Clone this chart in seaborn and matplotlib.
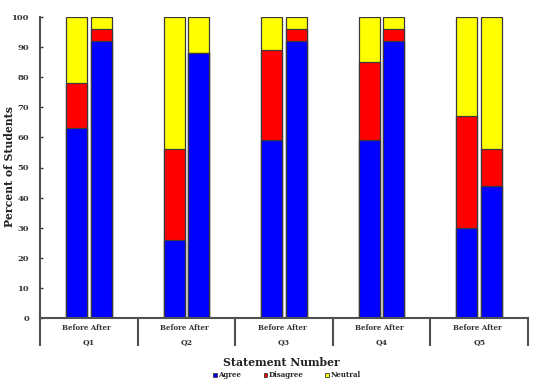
import matplotlib
matplotlib.use("Agg")
import matplotlib.pyplot as plt
from matplotlib.patches import Patch
import seaborn as sns
import pandas as pd

# Survey data, percent of students
questions = ["Q1", "Q2", "Q3", "Q4", "Q5"]
phases = ["Before", "After"]
agree_before = [63, 26, 59, 59, 30]
disagree_before = [15, 30, 30, 26, 37]
neutral_before = [22, 44, 11, 15, 33]
agree_after = [92, 88, 92, 92, 44]
disagree_after = [4, 0, 4, 4, 12]
neutral_after = [4, 12, 4, 4, 44]

answers = ["Agree", "Disagree", "Neutral"]
colors = {"Agree": "#0000FF", "Disagree": "#FF0000", "Neutral": "#FFFF00"}

# Long table, one row per bar
rows = []
for i, q in enumerate(questions):
    rows.append([q, "Before", agree_before[i], disagree_before[i], neutral_before[i]])
    rows.append([q, "After", agree_after[i], disagree_after[i], neutral_after[i]])
df = pd.DataFrame(rows, columns=["Question", "Phase", "Agree", "Disagree", "Neutral"])

# cumulative heights for stacking (drawn back to front)
df["top_agree"] = df["Agree"]
df["top_disagree"] = df["Agree"] + df["Disagree"]
df["top_neutral"] = df["Agree"] + df["Disagree"] + df["Neutral"]

sns.set_style("white")
plt.rcParams["font.family"] = ["DejaVu Serif"]
plt.rcParams["font.weight"] = "bold"

edge = "#3a3a3a"
fig = plt.figure(figsize=(5.38, 3.84), dpi=100)
ax = fig.add_axes([40 / 538, 66 / 384, 488 / 538, 301 / 384])

for col, ans in [("top_neutral", "Neutral"), ("top_disagree", "Disagree"), ("top_agree", "Agree")]:
    sns.barplot(data=df, x="Question", y=col, hue="Phase", hue_order=phases,
                order=questions, palette={p: colors[ans] for p in phases},
                width=0.504, gap=0.15, edgecolor=edge, linewidth=0.9,
                errorbar=None, legend=False, ax=ax, saturation=1)

ax.set_xlim(-0.5, 4.5)
ax.set_ylim(0, 100)
ax.set_yticks(range(0, 101, 10))
ax.tick_params(axis="y", left=True, labelsize=6, length=2, width=1, direction="in",
               color=edge, labelcolor="#333333", pad=8)

# x axis: group separators as long minor ticks, labels as text
ax.set_xticks(range(len(questions)))
ax.set_xticklabels([])
ax.tick_params(axis="x", which="major", length=0)
ax.set_xticks([i - 0.5 for i in range(len(questions) + 1)], minor=True)
ax.tick_params(axis="x", which="minor", bottom=True, length=20, width=1.5,
               color="#505050", direction="out")

trans = ax.get_xaxis_transform()
for i, q in enumerate(questions):
    ax.text(i - 0.02, -0.033, "Before After", transform=trans, ha="center", va="center",
            fontsize=5, color="#333333")
    ax.text(i, -0.08, q, transform=trans, ha="center", va="center",
            fontsize=5.5, color="#333333")

for s in ["top", "right"]:
    ax.spines[s].set_visible(False)
for s in ["left", "bottom"]:
    ax.spines[s].set_color("#505050")
    ax.spines[s].set_linewidth(1.5)

ax.set_xlabel("")
ax.set_ylabel("")
fig.text(10 / 538, 1 - 166 / 384, "Percent of Students", rotation=90,
         ha="center", va="center", fontsize=7.8, color="#222222")
fig.text(281 / 538, 1 - 362 / 384, "Statement Number", ha="center", va="center",
         fontsize=7.8, color="#222222")

handles = [Patch(facecolor=colors[a], edgecolor=edge, linewidth=0.6, label=a) for a in answers]
fig.legend(handles=handles, loc="center", bbox_to_anchor=(287 / 538, 1 - 375 / 384),
           ncol=3, frameon=False, fontsize=5, handlelength=0.5, handleheight=0.5,
           handletextpad=0.2, columnspacing=3.2)

fig.savefig("out.png", dpi=100)
